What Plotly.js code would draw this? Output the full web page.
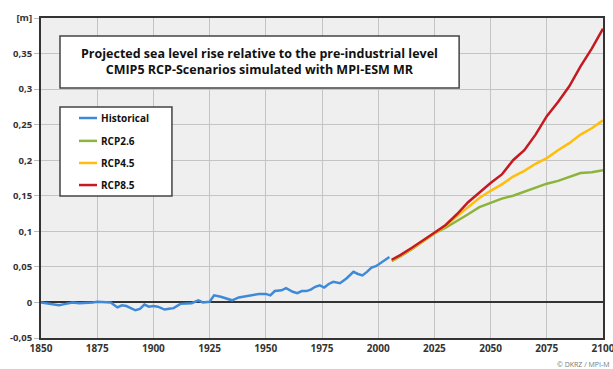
<!DOCTYPE html>
<html><head><meta charset="utf-8">
<script src="https://cdn.plot.ly/plotly-3.0.1.min.js"></script>
<style>html,body{margin:0;padding:0;background:#fff}#chart{width:613px;height:369px}</style>
</head><body><div id="chart"></div>
<script>
const histYears = [1850,1852,1855,1858,1861,1864,1867,1870,1873,1875,1878,1881,1884,1886,1888,1890,1892,1894,1896,1898,1900,1902,1905,1907,1909,1912,1915,1917,1920,1922,1925,1927,1930,1933,1935,1938,1941,1944,1947,1950,1952,1954,1957,1959,1962,1964,1966,1968,1970,1972,1974,1976,1978,1980,1983,1986,1989,1991,1993,1995,1997,1999,2001,2003,2005];
const histValues = [0,-0.001,-0.002,-0.004,-0.002,0,-0.001,-0.001,0,0.001,0,0,-0.007,-0.004,-0.005,-0.008,-0.011,-0.009,-0.003,-0.006,-0.005,-0.006,-0.010,-0.009,-0.008,-0.002,-0.001,-0.001,0.003,0,0.001,0.010,0.008,0.005,0.003,0.007,0.009,0.011,0.012,0.012,0.010,0.016,0.017,0.020,0.015,0.013,0.016,0.016,0.018,0.022,0.024,0.021,0.026,0.029,0.027,0.034,0.043,0.040,0.038,0.043,0.049,0.051,0.055,0.059,0.064];
const rcpYears = [2006,2010,2015,2020,2025,2030,2035,2040,2045,2050,2055,2060,2065,2070,2075,2080,2085,2090,2095,2100];
const rcp26 = [0.058,0.065,0.075,0.086,0.097,0.105,0.114,0.124,0.134,0.140,0.146,0.150,0.156,0.161,0.167,0.171,0.177,0.182,0.183,0.186];
const rcp45 = [0.059,0.066,0.076,0.087,0.097,0.108,0.121,0.134,0.147,0.157,0.166,0.177,0.185,0.195,0.203,0.214,0.224,0.236,0.245,0.256];
const rcp85 = [0.060,0.067,0.077,0.087,0.098,0.109,0.124,0.141,0.155,0.168,0.180,0.200,0.214,0.236,0.262,0.282,0.304,0.332,0.357,0.385];
const seriesNames = ['Historical','RCP2.6','RCP4.5','RCP8.5'];
const seriesColors = ['#3f8ad8','#8cb43c','#ffbe0a','#c41a22'];
const xTicks = [1850,1875,1900,1925,1950,1975,2000,2025,2050,2075,2100];
const yTicks = [-0.05,0,0.05,0.1,0.15,0.2,0.25,0.3,0.35,0.4];
const yTickText = ['-0,05','0','0,05','0,1','0,15','0,2','0,25','0,3','0,35','[m]'];
const titleLines = ['Projected sea level rise relative to the pre-industrial level','CMIP5 RCP-Scenarios simulated with MPI-ESM MR'];
const credit = '© DKRZ / MPI-M';

const F = 'Open Sans, Liberation Sans, sans-serif';
const xs = [histYears, rcpYears, rcpYears, rcpYears];
const ys = [histValues, rcp26, rcp45, rcp85];
const traces = seriesNames.map((n,i)=>({x:xs[i], y:ys[i], type:'scatter', mode:'lines', name:n,
  line:{color:seriesColors[i], width:2.5}, showlegend:false}));

const legY = [0.6875,0.616,0.547,0.478];
const shapes = [
  {type:'rect', xref:'paper', yref:'paper', x0:0.0338, x1:0.744, y0:0.781, y1:0.944, fillcolor:'#fff', line:{color:'#444', width:1.5}},
  {type:'rect', xref:'paper', yref:'paper', x0:0.0338, x1:0.233, y0:0.444, y1:0.722, fillcolor:'#fff', line:{color:'#444', width:1.5}}
];
const annotations = [
  {xref:'paper', yref:'paper', x:0.389, y:0.8625, text:'<b>'+titleLines[0]+'</b><br><b>'+titleLines[1]+'</b>', showarrow:false,
   font:{family:F, size:12.5, color:'#111'}, align:'center', xanchor:'center', yanchor:'middle'},
  {xref:'paper', yref:'paper', x:1.016, y:-0.084, text:credit, showarrow:false, xanchor:'right', yanchor:'middle',
   font:{family:F, size:7, color:'#777'}}
];
seriesNames.forEach((n,i)=>{
  shapes.push({type:'line', xref:'paper', yref:'paper', x0:0.0676, x1:0.0996, y0:legY[i], y1:legY[i], line:{color:seriesColors[i], width:2.5}});
  annotations.push({xref:'paper', yref:'paper', x:0.104, y:legY[i], text:'<b>'+n+'</b>', showarrow:false, xanchor:'left', yanchor:'middle',
    font:{family:F, size:10, color:'#111'}});
});

const layout = {
  width:613, height:369,
  margin:{l:41, r:10, t:18, b:31},
  paper_bgcolor:'#fff', plot_bgcolor:'#efefef',
  xaxis:{range:[1850,2100], tickvals:xTicks, ticktext:xTicks.map(String), showgrid:true, gridcolor:'#c4c4c4', gridwidth:1,
    zeroline:false, showline:true, linecolor:'#333', linewidth:2, mirror:true, ticks:'', ticklabeloverflow:'allow',
    tickfont:{family:F, size:10, color:'#333', weight:'bold'}},
  yaxis:{range:[-0.05,0.4], tickvals:yTicks, ticktext:yTickText, showgrid:true, gridcolor:'#c4c4c4', gridwidth:1,
    zeroline:true, zerolinecolor:'#333', zerolinewidth:2, showline:true, linecolor:'#333', linewidth:2, mirror:true,
    ticks:'outside', ticklen:5, tickcolor:'#bbb', tickfont:{family:F, size:9.5, color:'#333', weight:'bold'}},
  shapes:shapes, annotations:annotations, showlegend:false
};
Plotly.newPlot('chart', traces, layout, {displayModeBar:false, staticPlot:true});
</script></body></html>
